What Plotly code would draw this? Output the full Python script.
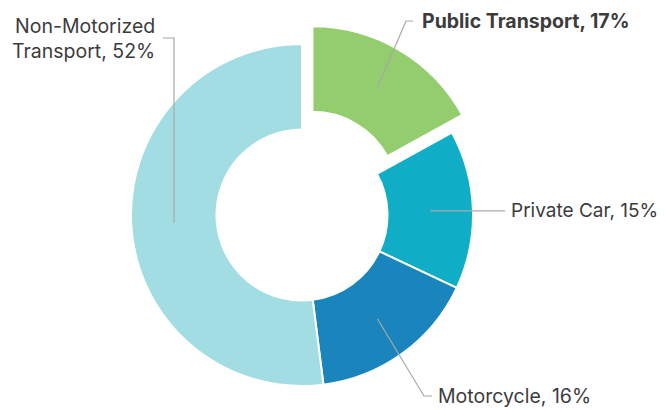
import math
import plotly.graph_objects as go

# ---- data ----
labels = ["Public Transport", "Private Car", "Motorcycle", "Non-Motorized Transport"]
values = [17, 15, 16, 52]
label_texts = ["<b>Public Transport, 17%</b>", "Private Car, 15%", "Motorcycle, 16%",
               "Non-Motorized<br>Transport, 52%"]
colors = ["#93CD6E", "#10AEC6", "#1A85BD", "#A2DDE4"]
pulls = [0.12, 0, 0, 0]

# ---- layout geometry (pixels) ----
W, H = 665, 410
CX, CY = 302, 215
R = 171
HOLE = 0.5
half = R * (1 + max(pulls))

fig = go.Figure(go.Pie(
    labels=labels, values=values, sort=False, direction="clockwise", rotation=0,
    hole=HOLE, pull=pulls, textinfo="none", hoverinfo="skip",
    marker=dict(colors=colors, line=dict(color="white", width=2)),
    domain=dict(x=[(CX - half) / W, (CX + half) / W],
                y=[(H - CY - half) / H, (H - CY + half) / H]),
    showlegend=False,
))

# leader line start points computed from the data angles
total = sum(values)
cum = 0
starts = []
for v, p in zip(values, pulls):
    mid = (cum + v / 2) / total * 2 * math.pi
    cum += v
    cx = CX + p * R * math.sin(mid)
    cy = CY - p * R * math.cos(mid)
    rm = R * (1 + HOLE) / 2
    starts.append((cx + rm * math.sin(mid), cy - rm * math.cos(mid)))

# elbow / end points and text anchors (label placement)
placements = [
    dict(elbow=(406, 21), end=(413, 21), tx=420, ty=21, anchor="left", size=19.5),
    dict(elbow=None, end=(505, None), tx=509, ty=None, anchor="left", size=19),
    dict(elbow=(424, 396), end=(432, 396), tx=436, ty=396, anchor="left", size=19.5),
    dict(elbow=(None, 38), end=(163, 38), tx=157, ty=39, anchor="right", size=19.5),
]

def px(x, y):
    return x / W, 1 - y / H

shapes = []
annotations = []
for (sx, sy), pl, txt in zip(starts, placements, label_texts):
    pts = [(sx, sy)]
    if pl["elbow"] is not None:
        ex, ey = pl["elbow"]
        pts.append((sx if ex is None else ex, ey))
    endx, endy = pl["end"]
    pts.append((endx, sy if endy is None else endy))
    path = "M " + " L ".join(f"{px(x, y)[0]:.5f},{px(x, y)[1]:.5f}" for x, y in pts)
    shapes.append(dict(type="path", path=path, xref="paper", yref="paper",
                       line=dict(color="#A8A8A8", width=1.2)))
    ty = sy if pl["ty"] is None else pl["ty"]
    ax, ay = px(pl["tx"], ty)
    annotations.append(dict(x=ax, y=ay, xref="paper", yref="paper", text=txt,
                            showarrow=False, xanchor=pl["anchor"], yanchor="middle",
                            align="right" if pl["anchor"] == "right" else "left",
                            font=dict(family="Inter", size=pl["size"], color="#3C3C3C")))

fig.update_layout(width=W, height=H, margin=dict(l=0, r=0, t=0, b=0),
                  paper_bgcolor="white", plot_bgcolor="white",
                  shapes=shapes, annotations=annotations)

fig.write_html("out.html")
